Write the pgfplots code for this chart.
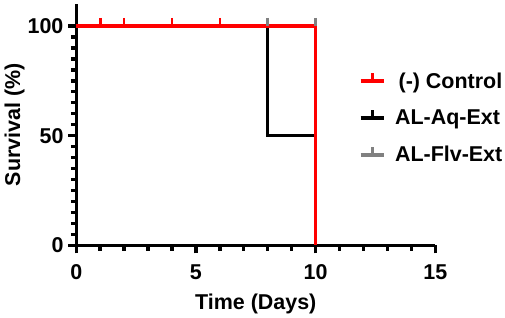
\documentclass[border=0pt]{standalone}
\usepackage{pgfplots}
\pgfplotsset{compat=1.18}
\usepackage{fontspec}
\setmainfont{Liberation Sans}
\definecolor{cgray}{RGB}{128,128,128}
\begin{document}
\begin{tikzpicture}
\begin{axis}[
  width=267.75pt, height=180pt, scale only axis,
  xmin=0, xmax=15, ymin=0, ymax=110,
  clip=false,
  axis lines=left,
  axis line style={line width=2.5pt, -},
  xtick={0,5,10,15}, ytick={0,50,100},
  minor x tick num=4, minor y tick num=9,
  tick align=outside,
  major tick length=6pt, minor tick length=4pt,
  every tick/.style={line width=2.5pt, black},
  tick label style={font=\fontsize{16}{18}\selectfont\bfseries},
  xticklabel style={yshift=-5pt},
  /pgf/number format/assume math mode=true,
  xlabel={Time (Days)}, ylabel={Survival (\%)},
  label style={font=\fontsize{16}{18}\selectfont\bfseries},
  xlabel style={inner sep=2.33pt, yshift=-4.5pt},
  ylabel style={yshift=-4.5pt},
  reverse legend,
  legend style={draw=none, fill=none, inner sep=0pt, at={(0.786,0.728)}, anchor=north west,
    font=\fontsize{16}{18}\selectfont\bfseries, row sep=10.5pt, /tikz/column sep=5pt},
  legend cell align=left,
  legend image code/.code={
    \draw[#1, mark=none, line width=3pt] (0cm,0cm) -- (0.6cm,0cm);
    \draw[#1, mark=none, line width=2pt] (0.3cm,0cm) -- (0.3cm,6pt);
  },
]
\addplot[cgray, line width=2.5pt, mark=|, mark indices={2,3},
  mark options={solid, yshift=3pt, line width=2pt}, mark size=3pt]
  coordinates {(0,100) (8,100) (10,100)};
\addlegendentry{AL-Flv-Ext}
\addplot[black, line width=2.5pt, mark=none]
  coordinates {(0,100) (8,100) (8,50) (10,50) (10,0)};
\addlegendentry{AL-Aq-Ext}
\addplot[red, line width=2.5pt, mark=|, mark indices={2,3,4,5},
  mark options={solid, yshift=3pt, line width=2pt}, mark size=3pt]
  coordinates {(0,100) (1,100) (2,100) (4,100) (6,100) (10,100) (10,0)};
\addlegendentry{\,(-) Control}
\path (rel axis cs:0,1) ++(0,3pt);
\end{axis}
\end{tikzpicture}
\end{document}
